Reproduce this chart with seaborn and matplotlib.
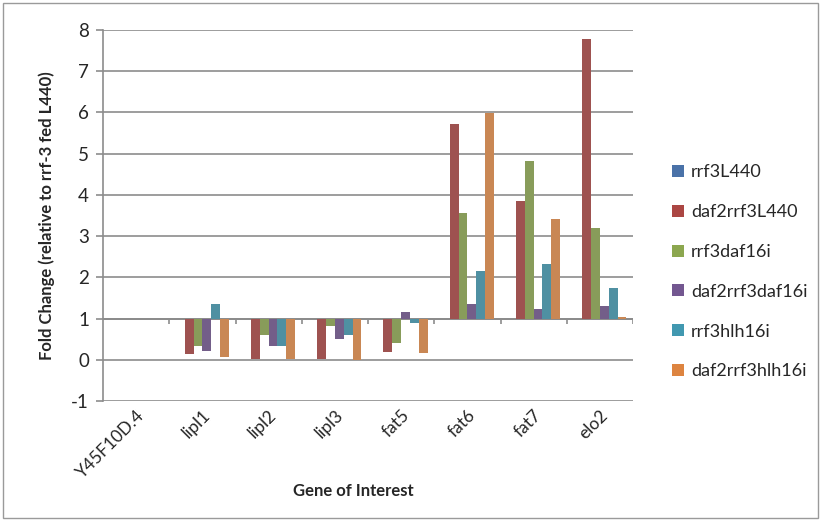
import numpy as np
import pandas as pd
import seaborn as sns
import matplotlib.pyplot as plt
from matplotlib.patches import Rectangle, Patch

# gene list and fold changes (relative to rrf-3 fed L440)
genes = ['Y45F10D.4', 'lipl1', 'lipl2', 'lipl3', 'fat5', 'fat6', 'fat7', 'elo2']
rrf3L440 = [1, 1, 1, 1, 1, 1, 1, 1]
daf2rrf3L440 = [1, 0.13, 0.03, 0.01, 0.20, 5.71, 3.85, 7.77]
rrf3daf16i = [1, 0.33, 0.61, 0.81, 0.40, 3.56, 4.82, 3.19]
daf2rrf3daf16i = [1, 0.22, 0.33, 0.50, 1.15, 1.36, 1.22, 1.30]
rrf3hlh16i = [1, 1.36, 0.33, 0.60, 0.89, 2.16, 2.33, 1.74]
daf2rrf3hlh16i = [1, 0.06, 0.02, 0.0, 0.16, 5.98, 3.42, 1.03]

series = {
    'rrf3L440': rrf3L440,
    'daf2rrf3L440': daf2rrf3L440,
    'rrf3daf16i': rrf3daf16i,
    'daf2rrf3daf16i': daf2rrf3daf16i,
    'rrf3hlh16i': rrf3hlh16i,
    'daf2rrf3hlh16i': daf2rrf3hlh16i,
}
colors = ['#4a72a8', '#ab4643', '#8ca74f', '#735790', '#4198b0', '#dd8440']

rows = []
for name, vals in series.items():
    for g, v in zip(genes, vals):
        rows.append({'gene': g, 'sample': name, 'fold': v})
df = pd.DataFrame(rows)
# Excel draws bars from the axis crossing at 1
df['delta'] = df['fold'] - 1

sns.set_style('white')
plt.rcParams['font.family'] = ['Lato', 'DejaVu Sans']
plt.rcParams['axes.unicode_minus'] = False

fig = plt.figure(figsize=(8.22, 5.21), dpi=100)
ax = fig.add_axes([103/822, 1 - 401/521, 530/822, 371/521])

sns.barplot(data=df, x='gene', y='delta', hue='sample', order=genes,
            hue_order=list(series.keys()), palette=colors, errorbar=None,
            width=0.8, gap=0, bottom=1, linewidth=0,
            legend=False, ax=ax, zorder=3)

ax.set_ylim(-1, 8)
ax.set_xlim(-0.5, len(genes) - 0.5)
ax.set_yticks(range(-1, 9))
ax.yaxis.grid(True, color='#8c8c8c', linewidth=1.2, zorder=0)
ax.set_axisbelow(True)

for side in ['top', 'right', 'bottom']:
    ax.spines[side].set_visible(False)
ax.spines['left'].set_color('#8c8c8c')
ax.spines['left'].set_linewidth(1.2)
ax.tick_params(axis='y', left=True, length=5, color='#8c8c8c', width=1.2,
               labelsize=13.5, pad=5)
ax.tick_params(axis='x', bottom=False, labelsize=12.5, pad=1)
ax.set_xticks(range(len(genes)))
ax.set_xticklabels(genes, rotation=45, ha='right', rotation_mode='anchor')

# category axis crossing at 1 with tick marks between categories
ax.axhline(1, color='#8c8c8c', linewidth=1.4, zorder=2)
ax.vlines(np.arange(0.5, len(genes)), 1 - 0.12, 1, color='#8c8c8c',
          linewidth=1.2, zorder=2)

ax.set_xlabel('Gene of Interest', fontsize=12, fontweight='bold')
ax.xaxis.set_label_coords(0.472, -0.22)
ax.set_ylabel('Fold Change (relative to rrf-3 fed L440)', fontsize=12,
              fontweight='bold', labelpad=12)

handles = [Patch(facecolor=c, edgecolor='none') for c in colors]
fig.legend(handles, list(series.keys()), loc='upper left',
           bbox_to_anchor=(656/822, 1 - 148/521), frameon=False,
           fontsize=13, handlelength=0.65, handleheight=0.65,
           handletextpad=0.4, labelspacing=1.32)

fig.patches.append(Rectangle((3/822, 3/521), 815/822, 515/521,
                             transform=fig.transFigure, fill=False,
                             edgecolor='#9a9a9a', linewidth=1))

fig.savefig('out.png', dpi=100)
